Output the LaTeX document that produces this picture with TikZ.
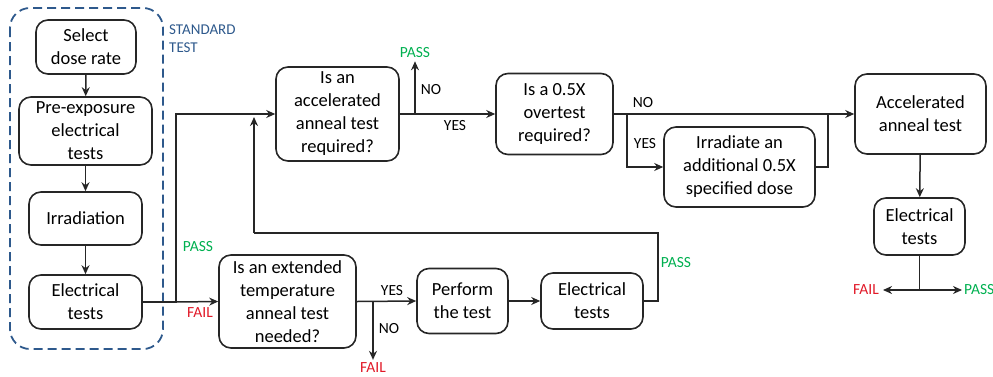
\documentclass[tikz,border=0pt]{standalone}
\usepackage{fontspec}
\setmainfont{Carlito}
\usetikzlibrary{calc, arrows.meta, positioning}

\definecolor{stdblue}{RGB}{46,89,140}
\definecolor{passgreen}{RGB}{0,176,80}
\definecolor{failred}{RGB}{225,25,40}

\begin{document}
\begin{tikzpicture} [x=1pt, y=-1pt,
		% define styles
		stepnodestyle/.style={
			% The shape:
			rectangle,
			% The border:
			line width=1.6pt,
			draw=black!85,
			% Corners
			rounded corners=12pt,
			% Text
			align=center,
			inner sep=0pt,
			% Font
			font=\fontsize{18.5}{23}\selectfont
		},
		labelstyle/.style={
			inner sep=0pt,
			font=\fontsize{15.5}{18}\selectfont
		},
		arrow/.style={
			->,
			% Thickness
			line width=1.5pt,
			>={Stealth[length=9pt, width=8pt]},
			% Color
			black!85
		},
		line/.style={
			-,
			line width=1.5pt,
			black!85
		}]
		% end of style definition
		\useasboundingbox (0,0) rectangle (993,376);
		
		% standard test frame
		\draw [stdblue, line width=1.8pt, dash pattern=on 9pt off 5pt, rounded corners=20pt] (10,8) rectangle (163,349);
		\node (iStandard) [labelstyle, stdblue, anchor=north west, align=left, font=\fontsize{15}{18}\selectfont] at (169,25) {STANDARD\\TEST};
		
		% draw nodes
		\node (iSelect) [stepnodestyle, minimum width=100pt, minimum height=54pt] at (86,47) {Select\\dose rate};
		\node (iPreExp) [stepnodestyle, minimum width=133pt, minimum height=68pt] at (85.5,131) {Pre-exposure\\electrical\\tests};
		\node (iIrrad) [stepnodestyle, minimum width=113pt, minimum height=53pt] at (85.5,218.5) {Irradiation};
		\node (iElec1) [stepnodestyle, minimum width=113pt, minimum height=54pt] at (85.5,302) {Electrical\\tests};
		
		\node (iAccQ) [stepnodestyle, minimum width=123pt, minimum height=94pt] at (337.5,114) {Is an\\accelerated\\anneal test\\required?};
		\node (iHalfQ) [stepnodestyle, minimum width=117pt, minimum height=81pt] at (554.5,114) {Is a 0.5X\\overtest\\required?};
		\node (iIrrAdd) [stepnodestyle, minimum width=151pt, minimum height=80pt] at (739.5,167) {Irradiate an\\additional 0.5X\\specified dose};
		\node (iAccAnn) [stepnodestyle, minimum width=131pt, minimum height=80pt] at (920.5,114) {Accelerated\\anneal test};
		\node (iElec3) [stepnodestyle, minimum width=91pt, minimum height=57pt] at (919.5,226.5) {Electrical\\tests};
		
		\node (iExtQ) [stepnodestyle, minimum width=137pt, minimum height=93pt] at (287.5,301.5) {Is an extended\\temperature\\anneal test\\needed?};
		\node (iPerform) [stepnodestyle, minimum width=91pt, minimum height=65pt] at (462.5,301) {Perform\\the test};
		\node (iElec2) [stepnodestyle, minimum width=102pt, minimum height=56pt] at (592,301) {Electrical\\tests};
		
		% outcome labels
		\node (iPass1) [labelstyle, passgreen] at (198,247) {PASS};
		\node (iFail1) [labelstyle, failred] at (200,313) {FAIL};
		\node (iPass2) [labelstyle, passgreen] at (415,53) {PASS};
		\node (iNo1) [labelstyle] at (431,90) {NO};
		\node (iYes1) [labelstyle] at (455,126) {YES};
		\node (iNo2) [labelstyle] at (643,103) {NO};
		\node (iYes2) [labelstyle] at (645,144) {YES};
		\node (iYes3) [labelstyle] at (392,291) {YES};
		\node (iNo3) [labelstyle] at (389,329) {NO};
		\node (iFail2) [labelstyle, failred] at (373,368) {FAIL};
		\node (iPass3) [labelstyle, passgreen] at (676,263) {PASS};
		\node (iFail3) [labelstyle, failred, anchor=east] at (879,290) {FAIL};
		\node (iPass4) [labelstyle, passgreen, anchor=west] at (964,290) {PASS};
		
		% junction points
		\coordinate (cSplit) at (176,302);
		\coordinate (cNo1) at (415,114);
		\coordinate (cYes2) at (627,114);
		\coordinate (cMerge) at (828,114);
		\coordinate (cNo3) at (373,301);
		\coordinate (cLoopR) at (658,233);
		\coordinate (cLoopL) at (254,233);
		\coordinate (cLoopEnd) at (254,117);
		\coordinate (cEnd) at (919.5,290);
		
		% connect nodes
		\draw [arrow] (iSelect) -- (iPreExp);
		\draw [arrow] (iPreExp) -- (iIrrad);
		\draw [arrow] (iIrrad) -- (iElec1);
		\draw [line] (iElec1.east) -- (cSplit);
		\draw [arrow] (cSplit) |- (iAccQ.west);
		\draw [arrow] (cSplit) -- (iExtQ.west);
		
		\draw [arrow] (iAccQ.east) -- (iHalfQ.west);
		\draw [arrow] (cNo1) -- ($(iPass2.south)+(0,3)$);
		\draw [arrow] (iHalfQ.east) -- (iAccAnn.west);
		\draw [arrow] (cYes2) |- (iIrrAdd.west);
		\draw [line] (iIrrAdd.east) -| (cMerge);
		\draw [arrow] (iAccAnn) -- (iElec3);
		\draw [line] (iElec3.south) -- (cEnd);
		\draw [arrow] (cEnd) -- ($(iFail3.east)+(4,0)$);
		\draw [arrow] (cEnd) -- ($(iPass4.west)+(-2,0)$);
		
		\draw [arrow] (iExtQ.east) -- (iPerform.west);
		\draw [arrow] (cNo3) -- ($(iFail2.north)+(0,-3)$);
		\draw [arrow] (iPerform) -- (iElec2);
		\draw [line] (iElec2.east) -| (cLoopR) -- (cLoopL);
		\draw [arrow] (cLoopL) -- (cLoopEnd);
	\end{tikzpicture}
\end{document}
